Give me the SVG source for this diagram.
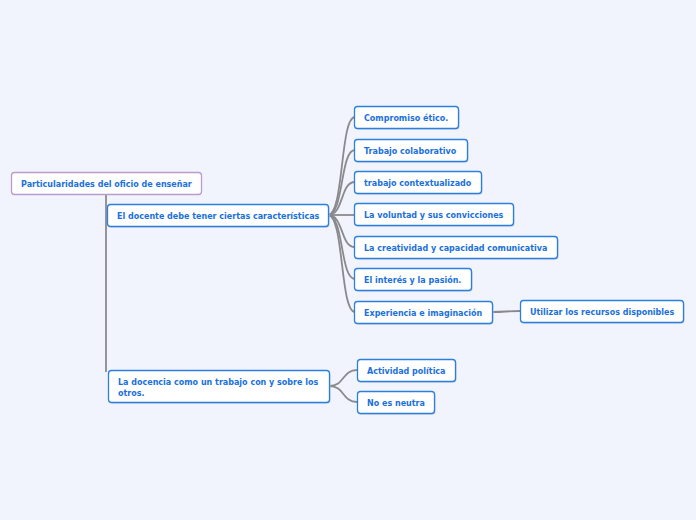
<svg xmlns="http://www.w3.org/2000/svg" width="696" height="520" viewBox="0 0 696 520">
<style>
.bg{fill:#f2f4fd}
.n rect{fill:#fff;stroke:#2a7fe0;stroke-width:1.3}
.n .sh{fill:#c4cad6;stroke:none}
.r rect{stroke:#b99ccc}
.n text{font-family:"DejaVu Sans",Verdana,sans-serif;font-weight:bold;font-size:8px;fill:#1a70dc}
.c path{fill:none;stroke:#8a8a8e;stroke-width:1.8}
</style>
<rect class="bg" width="696" height="520"/>
<g class="c">
<path d="M106 194 V372" stroke-width="3"/>
<path d="M328 215 C344 215 340 117 355 117"/>
<path d="M328 215 C344 215 340 150 355 150"/>
<path d="M328 215 C344 215 340 182 355 182"/>
<path d="M328 215 H355"/>
<path d="M328 215 C344 215 340 247 355 247"/>
<path d="M328 215 C344 215 340 279 355 279"/>
<path d="M328 215 C344 215 340 312 355 312"/>
<path d="M492 312 C506 312 506 311 520 311"/>
<path d="M329 386 C345 386 342 370 357 370"/>
<path d="M329 386 C345 386 342 402 357 402"/>
</g>
<g class="n r" id="root"><rect x="11.5" y="172.5" width="190" height="22" rx="3"/><text x="21" y="187">Particularidades del oficio de enseñar</text></g>
<g class="n" id="n1"><rect class="sh" x="108.5" y="205.5" width="221" height="22" rx="3"/><rect x="107.5" y="204.5" width="221" height="22" rx="3"/><text x="117" y="219">El docente debe tener ciertas características</text></g>
<g class="n" id="n2"><rect class="sh" x="355.5" y="107.5" width="104" height="22" rx="3"/><rect x="354.5" y="106.5" width="104" height="22" rx="3"/><text x="364" y="121">Compromiso ético.</text></g>
<g class="n" id="n3"><rect class="sh" x="355.5" y="140.5" width="113" height="22" rx="3"/><rect x="354.5" y="139.5" width="113" height="22" rx="3"/><text x="364" y="154">Trabajo colaborativo</text></g>
<g class="n" id="n4"><rect class="sh" x="355.5" y="172.5" width="127" height="22" rx="3"/><rect x="354.5" y="171.5" width="127" height="22" rx="3"/><text x="364" y="186">trabajo contextualizado</text></g>
<g class="n" id="n5"><rect class="sh" x="355.5" y="204.5" width="159" height="22" rx="3"/><rect x="354.5" y="203.5" width="159" height="22" rx="3"/><text x="364" y="218">La voluntad y sus convicciones</text></g>
<g class="n" id="n6"><rect class="sh" x="355.5" y="237.5" width="203" height="22" rx="3"/><rect x="354.5" y="236.5" width="203" height="22" rx="3"/><text x="364" y="251">La creatividad y capacidad comunicativa</text></g>
<g class="n" id="n7"><rect class="sh" x="355.5" y="269.5" width="117" height="22" rx="3"/><rect x="354.5" y="268.5" width="117" height="22" rx="3"/><text x="364" y="283">El interés y la pasión.</text></g>
<g class="n" id="n8"><rect class="sh" x="355.5" y="302.5" width="138" height="22" rx="3"/><rect x="354.5" y="301.5" width="138" height="22" rx="3"/><text x="364" y="316">Experiencia e imaginación</text></g>
<g class="n" id="n9"><rect class="sh" x="521.5" y="301.5" width="163" height="22" rx="3"/><rect x="520.5" y="300.5" width="163" height="22" rx="3"/><text x="530" y="315">Utilizar los recursos disponibles</text></g>
<g class="n" id="n10"><rect class="sh" x="109.5" y="371.5" width="221" height="32" rx="3"/><rect x="108.5" y="370.5" width="221" height="32" rx="3"/><text x="118" y="385">La docencia como un trabajo con y sobre los</text><text x="118" y="396">otros.</text></g>
<g class="n" id="n11"><rect class="sh" x="358.5" y="360.5" width="98" height="22" rx="3"/><rect x="357.5" y="359.5" width="98" height="22" rx="3"/><text x="367" y="374">Actividad política</text></g>
<g class="n" id="n12"><rect class="sh" x="358.5" y="392.5" width="77" height="22" rx="3"/><rect x="357.5" y="391.5" width="77" height="22" rx="3"/><text x="367" y="406">No es neutra</text></g>
</svg>
